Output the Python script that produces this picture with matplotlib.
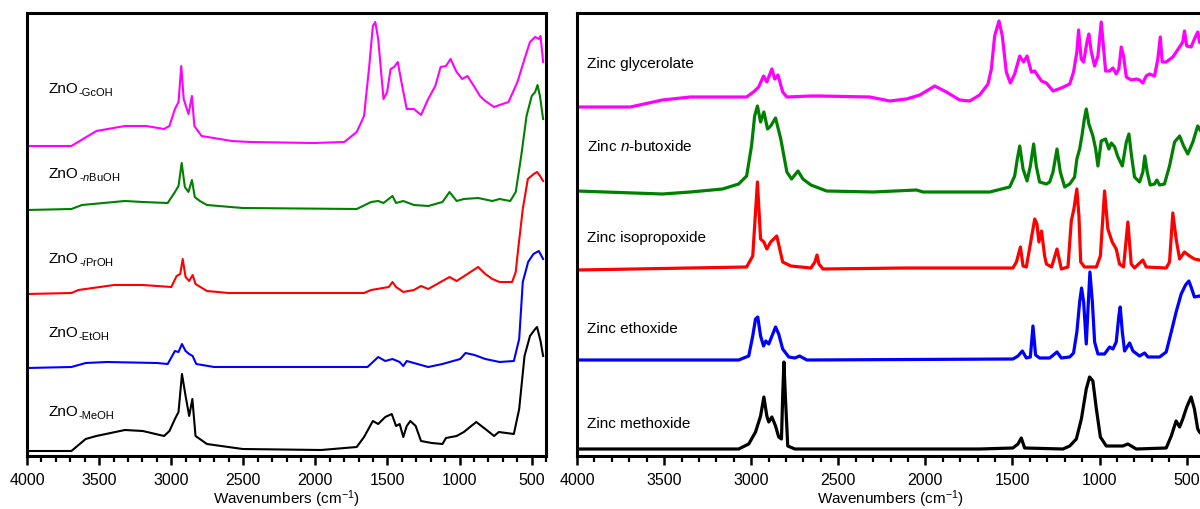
import matplotlib
matplotlib.use("Agg")
import matplotlib.pyplot as plt
from matplotlib.ticker import MultipleLocator

# ---- left panel: ZnO powders (wavenumber, stacked intensity) ----
gc_wn = [4000, 3692, 3519, 3321, 3173, 3049, 3012, 2974, 2949, 2930, 2913, 2880, 2856, 2839, 2789,
         2579, 2455, 2011, 1799, 1713, 1662, 1626, 1601, 1584, 1564, 1527, 1502, 1478, 1453, 1428,
         1403, 1366, 1316, 1267, 1217, 1168, 1131, 1094, 1062, 1020, 982, 945, 896, 858, 821,
         760, 722, 660, 598, 549, 511, 475, 450, 438, 420]
gc_h = [310, 310, 325, 330, 330, 327, 330, 347, 354, 390, 357, 342, 360, 330, 320,
        315, 314, 313, 314, 324, 340, 390, 430, 434, 417, 357, 364, 387, 389, 394,
        374, 347, 347, 341, 357, 370, 389, 390, 397, 384, 377, 380, 369, 360, 355,
        349, 351, 354, 374, 397, 414, 419, 417, 420, 394]

nbu_wn = [4000, 3692, 3618, 3321, 3197, 3024, 2974, 2949, 2927, 2905, 2880, 2856, 2836, 2801, 2752,
          2504, 1713, 1613, 1564, 1527, 1465, 1440, 1390, 1316, 1217, 1118, 1069, 1020, 970, 871,
          772, 722, 648, 610, 572, 535, 499, 475, 459, 442, 420]
nbu_h = [246, 247, 251, 255, 254, 253, 264, 270, 293, 269, 264, 276, 259, 255, 251,
         248, 247, 254, 255, 253, 260, 253, 255, 251, 250, 254, 264, 255, 257, 258,
         255, 257, 255, 264, 300, 340, 360, 364, 371, 360, 337]

ipr_wn = [4000, 3692, 3643, 3395, 3197, 2999, 2962, 2937, 2920, 2900, 2875, 2851, 2831, 2752, 2603,
          1662, 1613, 1490, 1465, 1440, 1390, 1316, 1267, 1217, 1143, 1069, 1020, 945, 871, 821,
          772, 722, 635, 610, 593, 561, 526, 485, 462, 441, 420]
ipr_h = [162, 163, 166, 171, 171, 169, 180, 182, 197, 179, 175, 181, 172, 165, 163,
         163, 166, 169, 174, 169, 164, 166, 170, 167, 173, 179, 175, 182, 189, 182,
         177, 174, 174, 184, 207, 247, 277, 282, 284, 280, 275]

eto_wn = [4000, 3692, 3593, 3445, 3098, 3024, 2974, 2949, 2925, 2900, 2875, 2851, 2826, 2702, 1638,
          1601, 1564, 1515, 1465, 1415, 1390, 1366, 1291, 1217, 1118, 1069, 995, 958, 896, 821,
          722, 623, 586, 561, 524, 487, 450, 420]
eto_h = [88, 89, 93, 94, 93, 92, 105, 104, 112, 105, 102, 100, 92, 89, 89,
         94, 99, 95, 97, 94, 90, 95, 92, 89, 92, 94, 97, 103, 101, 97,
         94, 95, 117, 174, 194, 202, 205, 197]

meo_wn = [4000, 3692, 3593, 3519, 3321, 3197, 3049, 3012, 2974, 2949, 2925, 2900, 2875, 2853, 2831,
          2752, 2504, 1960, 1713, 1662, 1601, 1564, 1515, 1470, 1440, 1415, 1390, 1366, 1341, 1304,
          1267, 1193, 1118, 1094, 1020, 970, 884, 821, 760, 727, 623, 586, 549, 511, 475,
          462, 438, 420]
meo_h = [5, 5, 17, 20, 26, 25, 20, 25, 37, 44, 82, 60, 40, 57, 20,
         12, 7, 6, 9, 19, 35, 32, 39, 42, 30, 32, 19, 30, 35, 30,
         15, 13, 12, 18, 20, 24, 34, 27, 20, 24, 22, 47, 100, 120, 127,
         129, 115, 100]

left_subs = ["-GcOH", r"-$\mathit{n}$BuOH", r"-$\mathit{i}$PrOH", "-EtOH", "-MeOH"]
left_label_y = [364, 279, 194, 120, 41]

# ---- right panel: zinc alkoxides ----
gly_wn = [4000, 3694, 3510, 3349, 3026, 2980, 2957, 2929, 2910, 2881, 2865, 2846, 2819, 2795, 2657,
          2606, 2319, 2204, 2108, 2032, 1946, 1879, 1803, 1745, 1688, 1640, 1621, 1602, 1577, 1558,
          1535, 1512, 1487, 1458, 1436, 1416, 1391, 1372, 1353, 1333, 1305, 1267, 1219, 1171, 1149,
          1130, 1120, 1105, 1091, 1072, 1061, 1047, 1028, 1009, 990, 976, 965, 942, 923, 904,
          889, 875, 862, 846, 818, 789, 770, 751, 732, 713, 684, 665, 651, 640, 617,
          579, 540, 522, 512, 499, 474, 455, 436, 426, 400]
gly_h = [349, 349, 356, 359, 359, 365, 369, 380, 374, 387, 377, 381, 364, 359, 360,
         360, 359, 355, 357, 361, 370, 364, 356, 355, 361, 372, 387, 420, 435, 420,
         384, 373, 382, 400, 394, 400, 384, 385, 380, 375, 373, 365, 368, 372, 384,
         404, 426, 397, 394, 414, 422, 404, 390, 400, 434, 407, 385, 385, 388, 382,
         387, 409, 400, 379, 376, 377, 376, 373, 380, 382, 380, 397, 419, 394, 394,
         399, 409, 414, 425, 410, 409, 417, 424, 414, 410]

nbr_wn = [4000, 3510, 3349, 3164, 3072, 3026, 2998, 2980, 2964, 2946, 2927, 2906, 2888, 2860, 2830,
          2795, 2768, 2731, 2703, 2657, 2567, 2300, 2051, 2013, 1630, 1516, 1487, 1472, 1458, 1439,
          1416, 1397, 1378, 1363, 1344, 1305, 1286, 1267, 1244, 1225, 1200, 1171, 1143, 1130, 1114,
          1101, 1087, 1076, 1061, 1038, 1022, 1009, 990, 965, 946, 932, 913, 894, 869, 846,
          831, 816, 799, 770, 751, 740, 726, 709, 684, 671, 655, 627, 598, 569, 540,
          517, 493, 464, 436, 426, 400]
nbr_h = [265, 262, 264, 267, 272, 280, 310, 340, 350, 334, 344, 327, 330, 338, 317,
         284, 277, 285, 277, 271, 265, 264, 266, 264, 264, 269, 280, 297, 310, 287,
         275, 290, 312, 290, 274, 272, 274, 284, 307, 284, 269, 272, 279, 297, 307,
         320, 337, 347, 332, 320, 307, 290, 315, 317, 307, 313, 309, 299, 290, 314,
         322, 300, 279, 274, 284, 300, 284, 271, 272, 276, 271, 272, 290, 314, 320,
         310, 302, 314, 330, 327, 320]

iso_wn = [4000, 3026, 2991, 2964, 2946, 2927, 2910, 2888, 2853, 2819, 2772, 2657, 2634, 2622, 2611,
          2588, 2118, 1956, 1497, 1477, 1454, 1439, 1420, 1372, 1359, 1348, 1333, 1315, 1305, 1275,
          1244, 1219, 1181, 1162, 1147, 1130, 1118, 1108, 1086, 1018, 995, 971, 952, 927, 904,
          885, 862, 837, 818, 799, 751, 732, 617, 598, 579, 560, 540, 512, 483, 455,
          426, 400]
iso_h = [186, 189, 200, 274, 217, 214, 207, 214, 220, 194, 190, 188, 194, 201, 192,
         187, 188, 188, 188, 194, 209, 190, 189, 237, 232, 214, 225, 200, 192, 189,
         207, 187, 189, 235, 247, 267, 240, 194, 189, 189, 200, 265, 227, 214, 207,
         192, 189, 234, 192, 188, 196, 189, 188, 194, 243, 217, 197, 204, 200, 197,
         196, 195]

eth_wn = [4000, 3072, 3014, 2991, 2975, 2962, 2946, 2929, 2916, 2899, 2860, 2842, 2819, 2784, 2749,
          2722, 2680, 1497, 1468, 1443, 1420, 1397, 1382, 1367, 1344, 1286, 1244, 1219, 1171, 1149,
          1130, 1114, 1103, 1091, 1076, 1064, 1055, 1041, 1028, 1009, 971, 942, 923, 904, 889,
          881, 869, 856, 827, 808, 770, 741, 722, 655, 617, 588, 560, 531, 506, 487,
          474, 455, 426, 400]
eth_h = [96, 96, 100, 120, 137, 139, 120, 110, 115, 112, 129, 122, 107, 99, 98,
         100, 96, 97, 100, 105, 98, 99, 130, 101, 98, 98, 104, 98, 99, 103,
         124, 154, 168, 154, 112, 154, 184, 154, 114, 102, 102, 109, 107, 114, 140,
         149, 124, 105, 113, 105, 100, 103, 99, 99, 104, 124, 144, 162, 171, 175,
         169, 159, 160, 158]

met_wn = [4000, 3072, 3014, 2975, 2946, 2927, 2910, 2899, 2881, 2860, 2842, 2826, 2819, 2812, 2803,
          2790, 2749, 2427, 1688, 1497, 1468, 1449, 1430, 1210, 1171, 1133, 1104, 1076, 1057, 1038,
          1018, 995, 961, 866, 837, 789, 617, 588, 560, 540, 522, 499, 474, 455, 436,
          426, 400]
met_h = [7, 7, 12, 24, 40, 59, 40, 34, 39, 30, 19, 17, 60, 94, 57,
         10, 7, 7, 7, 8, 12, 18, 8, 7, 10, 17, 37, 67, 79, 75,
         47, 19, 10, 10, 12, 7, 8, 20, 35, 29, 37, 49, 59, 47, 27,
         24, 20]

right_labels = ["Zinc glycerolate", r"Zinc $\mathit{n}$-butoxide", "Zinc isopropoxide",
                "Zinc ethoxide", "Zinc methoxide"]
right_label_y = [389, 306, 215, 124, 29]

colors = ["#ff00ff", "#008000", "#ff0000", "#0000ff", "#000000"]

plt.rcParams["font.family"] = "Liberation Sans"
plt.rcParams["mathtext.fontset"] = "custom"
plt.rcParams["mathtext.rm"] = "Liberation Sans"
plt.rcParams["mathtext.it"] = "Liberation Sans:italic"


def style_axes(ax):
    ax.set_xlim(4000, 400)
    ax.set_ylim(0, 443)
    ax.xaxis.set_major_locator(MultipleLocator(500))
    ax.xaxis.set_minor_locator(MultipleLocator(100))
    ax.tick_params(axis="x", which="major", direction="out", length=6.5, width=1.8,
                   labelsize=11.5, pad=5)
    ax.tick_params(axis="x", which="minor", direction="out", length=4.5, width=1.6)
    ax.set_yticks([])
    for spine in ax.spines.values():
        spine.set_linewidth(2.2)
    ax.set_xlabel("Wavenumbers (cm$^{-1}$)", fontsize=11, labelpad=0)


fig = plt.figure(figsize=(12, 5.1), dpi=100)
ax1 = fig.add_axes([27 / 1200, 53 / 510, 519 / 1200, 443 / 510])
ax2 = fig.add_axes([577 / 1200, 53 / 510, 627 / 1200, 443 / 510])

left_series = [(gc_wn, gc_h), (nbu_wn, nbu_h), (ipr_wn, ipr_h), (eto_wn, eto_h), (meo_wn, meo_h)]
for (wn, h), c in zip(left_series, colors):
    ax1.plot(wn, h, color=c, lw=1.5)
for sub, y in zip(left_subs, left_label_y):
    t = ax1.text(3850, y, "ZnO", fontsize=11, va="baseline", ha="left")
    # subscript sits just below the main baseline, like the original
    ax1.annotate(sub, xy=(1, 0), xycoords=t, xytext=(0.3, 0.3), textcoords="offset points",
                 fontsize=8, va="baseline", ha="left")

right_series = [(gly_wn, gly_h), (nbr_wn, nbr_h), (iso_wn, iso_h), (eth_wn, eth_h), (met_wn, met_h)]
for (wn, h), c in zip(right_series, colors):
    ax2.plot(wn, h, color=c, lw=2.3)
for label, y in zip(right_labels, right_label_y):
    ax2.text(3943, y, label, fontsize=11, va="baseline", ha="left")

style_axes(ax1)
style_axes(ax2)

fig.savefig("out.png", dpi=100)
